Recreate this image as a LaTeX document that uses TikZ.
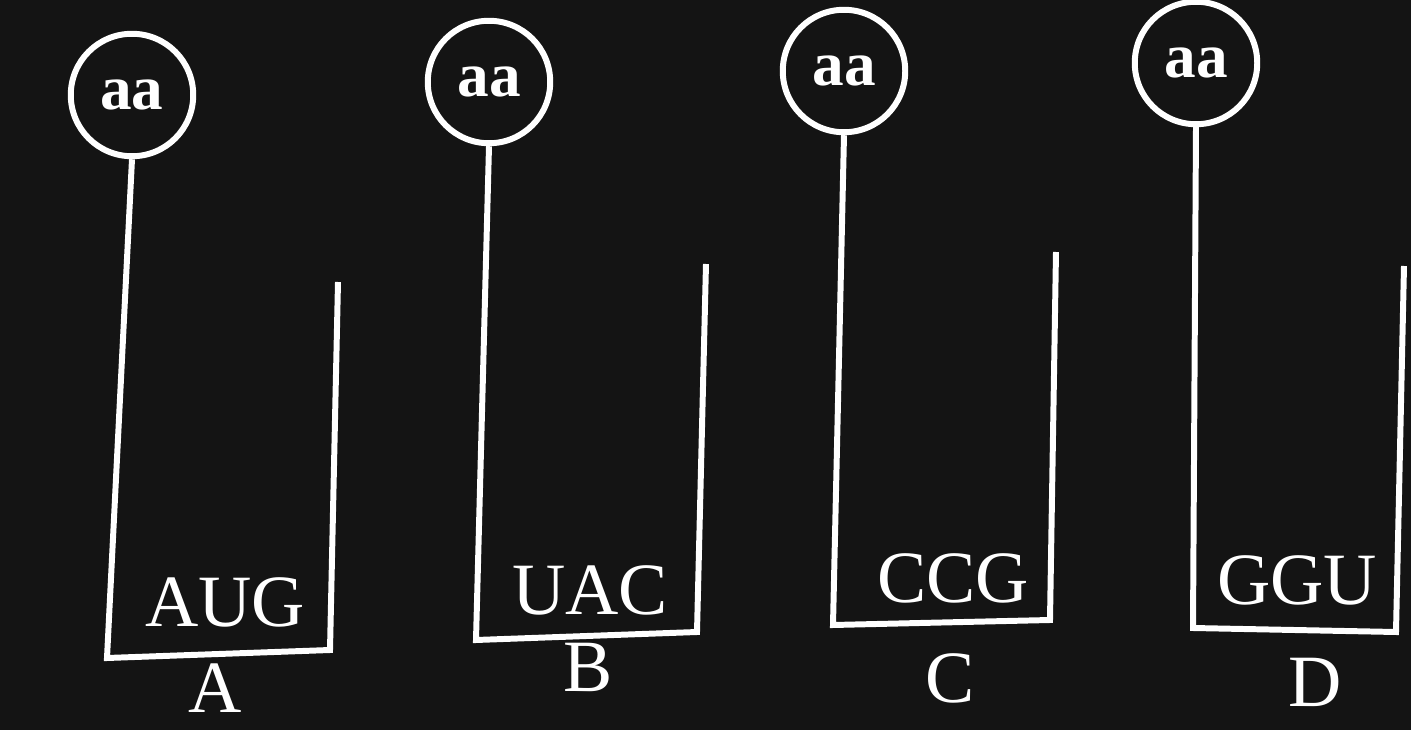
\documentclass[tikz,border=0pt]{standalone}
\usepackage{fontspec}
\setmainfont{Liberation Serif}
\begin{document}
\begin{tikzpicture}[x=0.02cm,y=-0.02cm,
  wire/.style={draw=white,line width=3.4pt,line join=miter},
  aacirc/.style={circle,draw=white,line width=3.4pt,minimum size=2.45cm,inner sep=0pt,text=white,font=\fontsize{36}{36}\selectfont\bfseries},
  codon/.style={text=white,font=\fontsize{42}{42}\selectfont,inner sep=0pt},
  lbl/.style={text=white,font=\fontsize{42}{42}\selectfont,inner sep=0pt}]
\fill[black!92] (0,0) rectangle (1411,730);
\useasboundingbox (0,0) rectangle (1411,730);
% A
\node[aacirc] (ca) at (132,95) {aa};
\coordinate (a1) at (107,658);
\coordinate (a2) at (330,650);
\coordinate (a3) at (338,282);
\draw[wire] (ca.south) -- (a1) -- (a2) -- (a3);
\node[codon] (ta) at (225,602) {AUG};
\node[lbl] (la) at (215,688) {A};
% B
\node[aacirc] (cb) at (489,82) {aa};
\coordinate (b1) at (476,640);
\coordinate (b2) at (697,632);
\coordinate (b3) at (706,264);
\draw[wire] (cb.south) -- (b1) -- (b2) -- (b3);
\node[codon] (tb) at (590,590) {UAC};
\node[lbl] (lb) at (588,667) {B};
% C
\node[aacirc] (cc) at (844,71) {aa};
\coordinate (c1) at (833,625);
\coordinate (c2) at (1050,620);
\coordinate (c3) at (1056,252);
\draw[wire] (cc.south) -- (c1) -- (c2) -- (c3);
\node[codon] (tc) at (953,578) {CCG};
\node[lbl] (lc) at (950,678) {C};
% D
\node[aacirc] (cd) at (1196,63) {aa};
\coordinate (d1) at (1193,628);
\coordinate (d2) at (1396,632);
\coordinate (d3) at (1404,266);
\draw[wire] (cd.south) -- (d1) -- (d2) -- (d3);
\node[codon] (td) at (1297,580) {GGU};
\node[lbl] (ld) at (1315,682) {D};
\end{tikzpicture}
\end{document}
